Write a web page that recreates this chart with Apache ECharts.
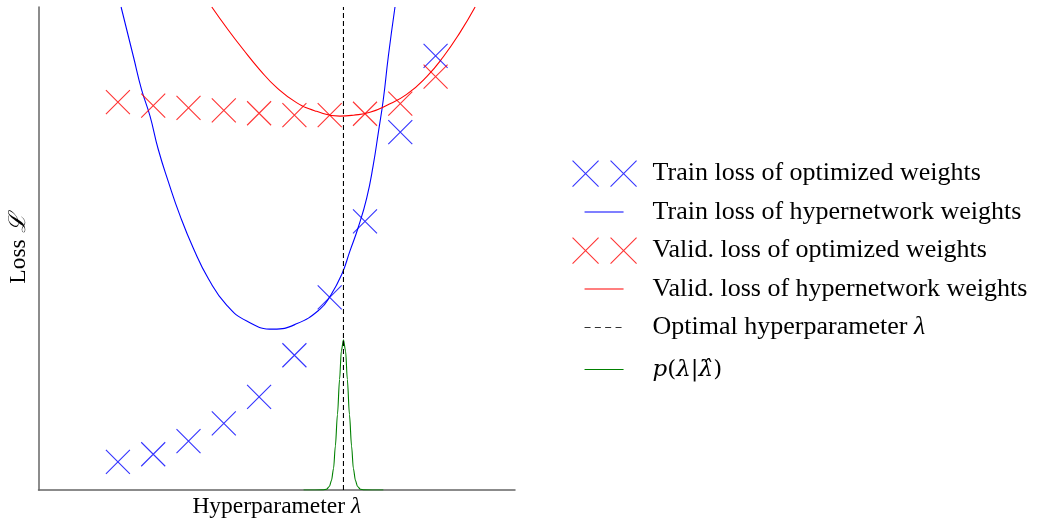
<!DOCTYPE html>
<html>
<head>
<meta charset="utf-8">
<script src="https://cdn.jsdelivr.net/npm/echarts@6/dist/echarts.min.js"></script>
<style>
html,body{margin:0;padding:0;background:#fff;}
#chart{width:1040px;height:524px;}
</style>
</head>
<body>
<div id="chart"></div>
<script>
// ---- data (x: hyperparameter units, y: loss units 0..100) ----
const lambdas = [2.25, 3.25, 4.25, 5.25, 6.25, 7.25, 8.25, 9.25, 10.25, 11.25];
const trainOptimized = [5.8, 7.4, 10.1, 13.8, 19.3, 27.9, 39.9, 55.6, 74.1, 89.9];
const validOptimized = [80.3, 79.6, 79.1, 78.6, 78.0, 77.6, 77.6, 77.9, 80.0, 85.6];

const trainHyperX = [2.34, 2.69, 2.92, 3.16, 3.39, 3.68, 4.01, 4.39, 4.81, 5.33, 5.90, 6.65, 7.31, 7.97, 8.26, 8.59, 8.82, 9.06, 9.30, 9.48, 9.63, 9.77, 9.91, 10.10];
const trainHyperY = [100, 89.7, 82.9, 77.4, 70.6, 63.8, 56.8, 50.0, 43.8, 38.3, 35.0, 33.3, 34.4, 37.4, 40.1, 44.6, 49.4, 54.4, 60.5, 67.1, 74.1, 80.9, 89.7, 100];

const validHyperX = [4.91, 5.33, 5.80, 6.27, 6.75, 7.31, 7.88, 8.54, 8.92, 9.39, 9.86, 10.43, 11.00, 11.47, 11.94, 12.37];
const validHyperY = [100, 95.7, 91.2, 87.0, 83.3, 80.2, 78.4, 77.4, 77.6, 78.2, 79.6, 81.9, 85.6, 89.7, 94.7, 100];

const optimalLambda = 8.64;
const optimalLineY = [0, 100];

const densityX = [7.51, 8.07, 8.16, 8.24, 8.30, 8.36, 8.41, 8.47, 8.53, 8.58, 8.64, 8.70, 8.75, 8.81, 8.87, 8.92, 8.98, 9.04, 9.12, 9.21, 9.77];
const densityY = [0, 0.02, 0.15, 0.72, 1.95, 4.5, 9.1, 15.6, 22.9, 28.8, 31.1, 28.8, 22.9, 15.6, 9.1, 4.5, 1.95, 0.72, 0.15, 0.02, 0];

const xRange = [0, 13.5];
const yRange = [0, 100];

const names = {
  trainOpt: 'Train loss of optimized weights',
  trainHyper: 'Train loss of hypernetwork weights',
  validOpt: 'Valid. loss of optimized weights',
  validHyper: 'Valid. loss of hypernetwork weights',
  optimal: 'Optimal hyperparameter λ',
  density: 'p(λ|λ̂)'
};
const xAxisName = 'Hyperparameter {i|λ}';
const yAxisName = 'Loss {i|ℒ}';

// ---- build ----
const zip = (a, b) => a.map((v, i) => [v, b[i]]);
const BLUE = '#0000ff', RED = '#ff0000', GREEN = '#008000', BLACK = '#000000';
const xSymbol = 'path://M0,0L24,24M24,0L0,24';
const FONT = 'Liberation Serif';

const iconXX = 'path://M0,0L26,26M26,0L0,26M38,0L64,26M64,0L38,26M75,13';
const iconLine = 'path://M0,0M75,26M12,13L51,13';
const iconDash = 'path://M0,0M75,26M12,13L18,13M22.3,13L28.3,13M32.6,13L38.6,13M43,13L49,13';

const rich = {
  i: { fontFamily: FONT, fontStyle: 'italic', fontSize: 26, color: '#000' },
  h: { fontFamily: 'DejaVu Serif', fontStyle: 'italic', fontSize: 23, color: '#000' },
  u: { fontFamily: 'DejaVu Serif', fontSize: 23, color: '#000' }
};
function fmt(name) {
  if (name === names.density) return '{h|p}{u|(}{h|λ}{u||}{h|λ̂}{u|)}';
  return name.replace('λ', '{i|λ}');
}
const strokeStyle = c => ({ color: 'transparent', borderColor: c, borderWidth: 1.1 });
const legendCommon = {
  orient: 'vertical',
  left: 572,
  padding: 0,
  itemWidth: 75,
  itemHeight: 26,
  itemGap: 11.4,
  selectedMode: false,
  formatter: fmt,
  textStyle: { fontFamily: FONT, fontSize: 26, color: '#000', lineHeight: 26, rich: rich }
};

const option = {
  animation: false,
  backgroundColor: '#fff',
  grid: { left: 38.5, right: 525, top: 7, bottom: 31, containLabel: false },
  xAxis: {
    type: 'value', min: xRange[0], max: xRange[1],
    axisLine: { show: true, onZero: false, lineStyle: { color: '#666', width: 1.5 } },
    axisTick: { show: false }, axisLabel: { show: false }, splitLine: { show: false },
    name: xAxisName, nameLocation: 'middle', nameGap: 5,
    nameTextStyle: { fontFamily: FONT, fontSize: 23.5, color: '#000', verticalAlign: 'top',
      rich: { i: { fontFamily: FONT, fontStyle: 'italic', fontSize: 23.5, color: '#000' } } }
  },
  yAxis: {
    type: 'value', min: yRange[0], max: yRange[1],
    axisLine: { show: true, onZero: false, lineStyle: { color: '#666', width: 1.5 } },
    axisTick: { show: false }, axisLabel: { show: false }, splitLine: { show: false },
    name: yAxisName, nameLocation: 'middle', nameGap: 8, nameRotate: 90,
    nameTextStyle: { fontFamily: FONT, fontSize: 23.5, color: '#000',
      rich: { i: { fontFamily: FONT, fontStyle: 'italic', fontSize: 23.5, color: '#000' } } }
  },
  legend: [
    Object.assign({}, legendCommon, {
      top: 160,
      data: [
        { name: names.trainOpt, icon: iconXX, itemStyle: strokeStyle(BLUE) },
        { name: names.trainHyper, icon: iconLine, itemStyle: strokeStyle(BLUE) },
        { name: names.validOpt, icon: iconXX, itemStyle: strokeStyle(RED) },
        { name: names.validHyper, icon: iconLine, itemStyle: strokeStyle(RED) },
        { name: names.optimal, icon: iconDash, itemStyle: strokeStyle('#333') }
      ]
    }),
    Object.assign({}, legendCommon, {
      top: 356,
      data: [
        { name: names.density, icon: iconLine, itemStyle: strokeStyle(GREEN) }
      ]
    })
  ],
  series: [
    {
      name: names.trainOpt, type: 'scatter', symbol: xSymbol, symbolSize: 24,
      itemStyle: strokeStyle(BLUE),
      data: zip(lambdas, trainOptimized), z: 3
    },
    {
      name: names.trainHyper, type: 'line', symbol: 'none', showSymbol: false,
      smooth: 0.5,
      lineStyle: { color: BLUE, width: 1.1 }, itemStyle: { color: BLUE },
      data: zip(trainHyperX, trainHyperY), z: 2
    },
    {
      name: names.validOpt, type: 'scatter', symbol: xSymbol, symbolSize: 24,
      itemStyle: strokeStyle(RED),
      data: zip(lambdas, validOptimized), z: 3
    },
    {
      name: names.validHyper, type: 'line', symbol: 'none', showSymbol: false,
      smooth: 0.5,
      lineStyle: { color: RED, width: 1.1 }, itemStyle: { color: RED },
      data: zip(validHyperX, validHyperY), z: 2
    },
    {
      name: names.optimal, type: 'line', symbol: 'none', showSymbol: false,
      lineStyle: { color: BLACK, width: 1.1, type: [5, 3] }, itemStyle: { color: BLACK },
      data: optimalLineY.map(v => [optimalLambda, v]), z: 4
    },
    {
      name: names.density, type: 'line', symbol: 'none', showSymbol: false,
      smooth: 0.3, smoothMonotone: 'x',
      lineStyle: { color: GREEN, width: 1.1 }, itemStyle: { color: GREEN },
      data: zip(densityX, densityY), z: 2
    }
  ]
};

const chart = echarts.init(document.getElementById('chart'), null, { renderer: 'canvas' });
chart.setOption(option);
</script>
</body>
</html>
